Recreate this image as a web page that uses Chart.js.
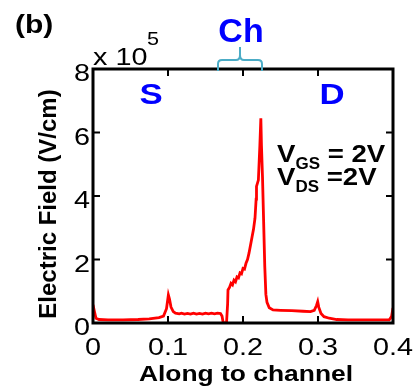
<!DOCTYPE html>
<html>
<head>
<meta charset="utf-8">
<script src="https://cdn.jsdelivr.net/npm/chart.js@4"></script>
<style>
	html, body { margin: 0; padding: 0; background: #ffffff; }
	#chart { display: block; }
</style>
</head>
<body>
<canvas id="chart" width="417" height="390"></canvas>
<script>
// Data (field in units of 1e5 V/cm)
const position = [
	0.000, 0.002, 0.004, 0.008, 0.020, 0.040, 0.060, 0.075, 0.088, 0.094,
	0.098, 0.1005, 0.102, 0.104, 0.107, 0.110, 0.115, 0.118, 0.122, 0.126,
	0.130, 0.134, 0.138, 0.142, 0.146, 0.150, 0.154, 0.158, 0.162, 0.166,
	0.170, 0.172, 0.1735, 0.175, 0.178, 0.1795, 0.180, 0.182, 0.184, 0.186,
	0.188, 0.190, 0.192, 0.194, 0.196, 0.198, 0.200, 0.202, 0.204, 0.206,
	0.208, 0.210, 0.212, 0.214, 0.216, 0.2175, 0.218, 0.2205, 0.2225, 0.2238,
	0.2246, 0.226, 0.2275, 0.229, 0.2305, 0.232, 0.235, 0.240, 0.250, 0.265,
	0.280, 0.290, 0.295, 0.298, 0.2996, 0.301, 0.304, 0.308, 0.315, 0.325,
	0.340, 0.360, 0.380, 0.395, 0.398, 0.400
];
const field = [
	0.57, 0.35, 0.15, 0.11, 0.10, 0.10, 0.11, 0.13, 0.17, 0.22,
	0.45, 0.88, 0.75, 0.50, 0.36, 0.31, 0.29, 0.31, 0.28, 0.30,
	0.28, 0.31, 0.28, 0.30, 0.28, 0.31, 0.29, 0.31, 0.29, 0.31,
	0.30, 0.22, 0.02, 0.00, 0.00, 0.60, 1.04, 1.12, 1.25, 1.20,
	1.35, 1.30, 1.45, 1.42, 1.58, 1.55, 1.72, 1.70, 1.88, 2.00,
	2.20, 2.45, 2.70, 2.95, 3.30, 3.90, 4.30, 4.50, 5.60, 6.45,
	5.60, 4.60, 3.20, 1.80, 0.90, 0.65, 0.48, 0.41, 0.40, 0.39,
	0.37, 0.36, 0.40, 0.55, 0.67, 0.50, 0.30, 0.20, 0.15, 0.11,
	0.10, 0.10, 0.10, 0.10, 0.20, 0.47
];
const xTicks = [0, 0.1, 0.2, 0.3, 0.4];
const xTickLabels = ['0', '0.1', '0.2', '0.3', '0.4'];
const yTicks = [0, 2, 4, 6, 8];
const yTickLabels = ['0', '2', '4', '6', '8'];

const FONT = '"Liberation Sans", Arial, Helvetica, sans-serif';
const STRETCH = 1.2; // the source figure is a bit wider than tall

// Draw text stretched horizontally, returns drawn width
function sText(ctx, str, x, y, font, align, sx) {
	sx = sx || STRETCH;
	ctx.font = font;
	const w = ctx.measureText(str).width * sx;
	let left = x;
	if (align === 'center') left = x - w / 2;
	else if (align === 'right') left = x - w;
	ctx.save();
	ctx.translate(left, y);
	ctx.scale(sx, 1);
	ctx.textAlign = 'left';
	ctx.textBaseline = 'alphabetic';
	ctx.fillText(str, 0, 0);
	ctx.restore();
	return w;
}

// V with subscript, then the rest of the line
function biasText(ctx, x, y, sub, rest) {
	x += sText(ctx, 'V', x, y, 'bold 23px ' + FONT, 'left');
	x += sText(ctx, sub, x, y + 7, 'bold 17px ' + FONT, 'left', 1);
	sText(ctx, rest, x, y, 'bold 23px ' + FONT, 'left');
}

// Frame, inward ticks, tick labels, titles and labels
const decor = {
	id: 'decor',
	afterDraw(chart) {
		const ctx = chart.ctx;
		const a = chart.chartArea;
		const xs = chart.scales.x;
		const ys = chart.scales.y;
		ctx.save();

		ctx.strokeStyle = '#000000';
		ctx.lineWidth = 3;
		ctx.strokeRect(a.left, a.top, a.right - a.left, a.bottom - a.top);

		ctx.lineWidth = 2;
		ctx.beginPath();
		for (const v of xTicks.slice(1, -1)) {
			const px = xs.getPixelForValue(v);
			ctx.moveTo(px, a.bottom); ctx.lineTo(px, a.bottom - 7);
			ctx.moveTo(px, a.top); ctx.lineTo(px, a.top + 7);
		}
		for (const v of yTicks.slice(1, -1)) {
			const py = ys.getPixelForValue(v);
			ctx.moveTo(a.left, py); ctx.lineTo(a.left + 7, py);
			ctx.moveTo(a.right, py); ctx.lineTo(a.right - 7, py);
		}
		ctx.stroke();

		// tick labels
		ctx.fillStyle = '#000000';
		xTicks.forEach((v, i) => {
			sText(ctx, xTickLabels[i], xs.getPixelForValue(v), 355, '24px ' + FONT, 'center');
		});
		yTicks.forEach((v, i) => {
			sText(ctx, yTickLabels[i], 90, ys.getPixelForValue(v) + 12, '24px ' + FONT, 'right');
		});

		// axis titles
		sText(ctx, 'Along to channel', 246, 381, 'bold 22px ' + FONT, 'center');
		ctx.save();
		ctx.translate(56, 204);
		ctx.rotate(-Math.PI / 2);
		ctx.font = 'bold 24px ' + FONT;
		ctx.textAlign = 'center';
		ctx.textBaseline = 'alphabetic';
		ctx.fillText('Electric Field (V/cm)', 0, 0);
		ctx.restore();

		// exponent
		sText(ctx, 'x 10', 93, 65, '24px ' + FONT, 'left');
		sText(ctx, '5', 147, 45, '18px ' + FONT, 'left');

		// panel label
		sText(ctx, '(b)', 15, 33, 'bold 25px ' + FONT, 'left');

		// region labels
		ctx.fillStyle = '#0000ff';
		sText(ctx, 'Ch', 241, 42, 'bold 34px ' + FONT, 'center', 1);
		sText(ctx, 'S', 151, 104, 'bold 29px ' + FONT, 'center');
		sText(ctx, 'D', 332, 104, 'bold 29px ' + FONT, 'center');

		// channel brace
		ctx.strokeStyle = '#4bacc6';
		ctx.lineWidth = 2;
		ctx.beginPath();
		ctx.moveTo(218, 71);
		ctx.lineTo(218, 64);
		ctx.quadraticCurveTo(218, 60, 222, 60);
		ctx.lineTo(236, 60);
		ctx.quadraticCurveTo(240, 60, 240, 55);
		ctx.lineTo(240, 47);
		ctx.moveTo(240, 55);
		ctx.quadraticCurveTo(240, 60, 244, 60);
		ctx.lineTo(258, 60);
		ctx.quadraticCurveTo(262, 60, 262, 64);
		ctx.lineTo(262, 71);
		ctx.stroke();

		// bias conditions
		ctx.fillStyle = '#000000';
		biasText(ctx, 277, 162, 'GS', ' = 2V');
		biasText(ctx, 277, 185, 'DS', ' =2V');

		ctx.restore();
	}
};

window.onload = function() {
	const ctx = document.getElementById('chart').getContext('2d');
	new Chart(ctx, {
		type: 'line',
		data: {
			datasets: [{
				data: position.map((x, i) => ({ x: x, y: field[i] })),
				borderColor: '#ff0000',
				borderWidth: 2.8,
				pointRadius: 0,
				tension: 0,
				fill: false
			}]
		},
		options: {
			responsive: false,
			animation: false,
			devicePixelRatio: 1,
			layout: { padding: { top: 69, right: 24, left: 0, bottom: 0 } },
			plugins: { legend: { display: false }, tooltip: { enabled: false } },
			scales: {
				x: {
					type: 'linear',
					min: 0,
					max: 0.4,
					grid: { display: false },
					border: { display: false },
					ticks: { display: false, stepSize: 0.1 },
					afterFit: (s) => { s.height = 67; }
				},
				y: {
					min: 0,
					max: 8,
					grid: { display: false },
					border: { display: false },
					ticks: { display: false, stepSize: 2 },
					afterFit: (s) => { s.width = 93; }
				}
			}
		},
		plugins: [decor]
	});
};
</script>
</body>
</html>
